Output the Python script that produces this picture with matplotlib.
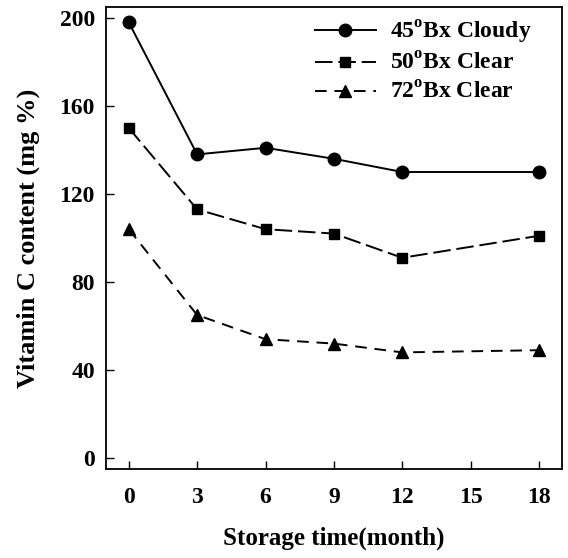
import matplotlib
matplotlib.use("Agg")
import matplotlib.pyplot as plt

months = [0, 3, 6, 9, 12, 18]
cloudy45 = [198, 138, 141, 136, 130, 130]
clear50 = [150, 113, 104, 102, 91, 101]
clear72 = [104, 65, 54, 52, 48, 49]
labels = ["45$^{\\mathregular{o}}$Bx Cloudy", "50$^{\\mathregular{o}}$Bx Clear", "72$^{\\mathregular{o}}$Bx Clear"]
xticks = [0, 3, 6, 9, 12, 15, 18]
yticks = [0, 40, 80, 120, 160, 200]

plt.rcParams['font.family'] = ['Liberation Serif', 'DejaVu Serif']
plt.rcParams['font.weight'] = 'bold'
plt.rcParams['mathtext.default'] = 'bf'

fig = plt.figure(figsize=(5.68, 5.58), dpi=100)
ax = fig.add_axes([0.1866, 0.1595, 0.8024, 0.828])

ax.plot(months, cloudy45, '-', color='black', marker='o', markersize=9, lw=1.4, label=labels[0])
ax.plot(months, clear50, color='black', marker='s', markersize=7.5, lw=1.4, dashes=(9, 3), label=labels[1])
ax.plot(months, clear72, color='black', marker='^', markersize=8.5, lw=1.4, dashes=(6, 4), label=labels[2])

ax.set_xlim(-1, 19)
ax.set_ylim(-5, 205)
ax.set_xticks(xticks)
ax.set_yticks(yticks)
ax.tick_params(direction='in', length=6, labelsize=17, width=1)
ax.tick_params(axis='x', pad=13)
ax.tick_params(axis='y', pad=8)
for lab in ax.get_xticklabels() + ax.get_yticklabels():
    lab.set_fontweight('bold')
ax.set_xlabel('Storage time(month)', fontsize=18, fontweight='bold', labelpad=13)
ax.set_ylabel('Vitamin C content (mg %)', fontsize=19, fontweight='bold', labelpad=14)
for s in ax.spines.values():
    s.set_linewidth(1.3)

leg = ax.legend(loc='upper right', bbox_to_anchor=(0.955, 0.995), frameon=False,
                handlelength=2.6, borderaxespad=0.0,
                labelspacing=0.3, handletextpad=0.6, prop={'weight': 'bold', 'size': 17})

fig.savefig('out.png', dpi=100)
